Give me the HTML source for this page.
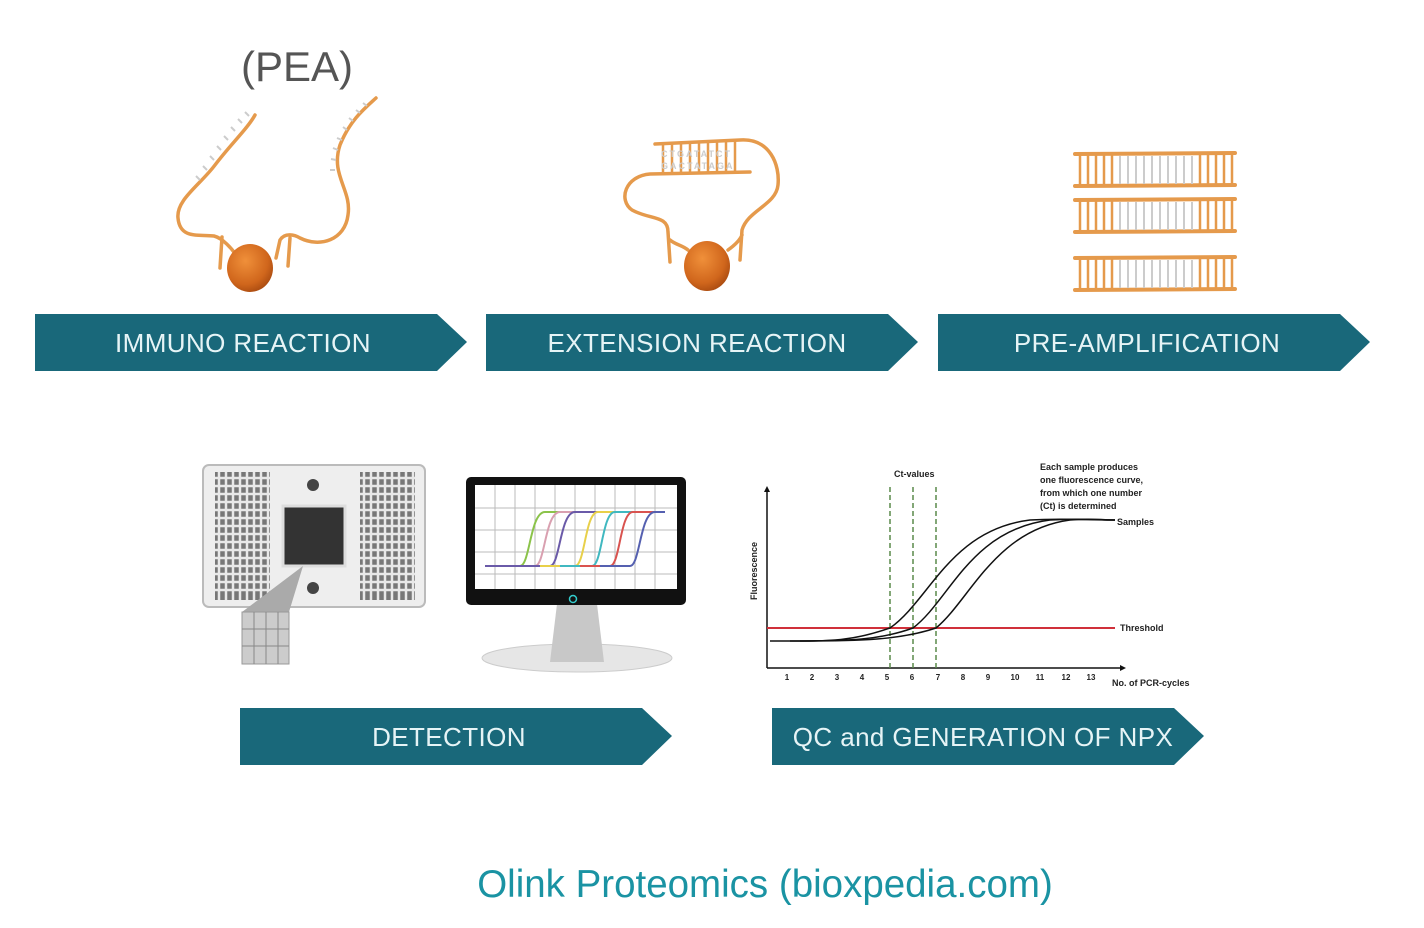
<!DOCTYPE html>
<html><head><meta charset="utf-8"><style>
html,body{margin:0;padding:0;background:#fff;}
svg{display:block;font-family:"Liberation Sans",sans-serif;}
</style></head><body>
<svg width="1424" height="928" viewBox="0 0 1424 928" xmlns="http://www.w3.org/2000/svg">
<defs>
<radialGradient id="bl" cx="0.4" cy="0.35" r="0.7"><stop offset="0" stop-color="#f0903a"/><stop offset="0.7" stop-color="#d0661c"/><stop offset="1" stop-color="#a84a10"/></radialGradient>
</defs>
<text x="297" y="81" font-size="42" fill="#555" text-anchor="middle">(PEA)</text>

<g fill="none" stroke="#e59a4c" stroke-width="3.5" stroke-linecap="round">
<path d="M238,258 C232,248 222,238 214,236 C200,234 180,240 178,218 C176,200 200,185 215,165 C230,145 248,128 255,115"/>
<path d="M222,237 L220,268 M276,258 L280,240 C285,232 295,235 300,238 C320,248 345,240 348,215 C352,190 330,175 340,145 C350,120 365,108 376,98"/>
<path d="M290,238 L288,266"/>
</g>
<g stroke="#ccc" stroke-width="2">
<path d="M200,180 l-4,-4 M207,170 l-4,-4 M214,160 l-4,-4 M221,150 l-4,-4 M228,140 l-4,-4 M235,131 l-4,-4 M242,123 l-4,-4 M249,116 l-4,-4"/>
<path d="M335,170 l-5,0 M336,160 l-5,-1 M338,150 l-5,-2 M342,140 l-5,-2 M347,130 l-4,-3 M353,121 l-4,-3 M360,113 l-4,-3 M367,106 l-4,-3"/>
</g>
<ellipse cx="250" cy="268" rx="23" ry="24" fill="url(#bl)"/>

<g fill="none" stroke="#e59a4c" stroke-width="3.5" stroke-linecap="round">
<path d="M750,172 L650,174 C625,176 618,200 632,210 C650,220 668,215 668,232 L670,262"/>
<path d="M655,144 L740,140 C770,138 780,165 778,185 C776,205 748,210 742,230 L740,260 M728,250 C735,245 740,240 742,235"/>
<path d="M688,250 C682,245 676,245 670,240"/>
</g>
<g stroke="#e59a4c" stroke-width="2.5"><path d="M663,144 v28 M672,144 v28 M681,143 v29 M690,143 v29 M699,142 v30 M708,142 v30 M717,141 v31 M726,141 v31 M735,141 v31"/></g>
<g fill="#ccc" font-size="9" font-weight="bold"><text x="661" y="157" letter-spacing="2">CTGATATCT</text><text x="661" y="169" letter-spacing="2">GACTATAGA</text></g>
<ellipse cx="707" cy="266" rx="23" ry="25" fill="url(#bl)"/>

<g id="lad">
<g stroke="#e59a4c" stroke-width="4" stroke-linecap="round"><path d="M1075,154 L1235,153 M1075,186 L1235,185"/></g>
<g stroke="#e59a4c" stroke-width="2.5"><path d="M1080,154v32M1088,154v32M1096,154v32M1104,154v32M1112,154v32M1200,154v32M1208,154v32M1216,154v32M1224,154v32M1232,154v32"/></g>
<g stroke="#ccc" stroke-width="2"><path d="M1120,156v28M1128,156v28M1136,156v28M1144,156v28M1152,156v28M1160,156v28M1168,156v28M1176,156v28M1184,156v28M1192,156v28"/></g>
</g>
<use href="#lad" y="46"/>
<use href="#lad" y="104"/>

<g fill="#19687a">
<polygon points="35,314 437,314 467,342 437,371 35,371"/>
<polygon points="486,314 888,314 918,342 888,371 486,371"/>
<polygon points="938,314 1340,314 1370,342 1340,371 938,371"/>
<polygon points="240,708 642,708 672,736 642,765 240,765"/>
<polygon points="772,708 1174,708 1204,736 1174,765 772,765"/>
</g>
<g fill="#e6f4f6" font-size="26" text-anchor="middle" letter-spacing="0.4">
<text x="243" y="352">IMMUNO REACTION</text>
<text x="697" y="352">EXTENSION REACTION</text>
<text x="1147" y="352">PRE-AMPLIFICATION</text>
<text x="449" y="746">DETECTION</text>
<text x="983" y="746">QC and GENERATION OF NPX</text>
</g>

<rect x="203" y="465" width="222" height="142" rx="6" fill="#eee" stroke="#bbb" stroke-width="2"/>
<rect x="215" y="472" width="55" height="128" fill="#777"/>
<rect x="360" y="472" width="55" height="128" fill="#777"/>
<g stroke="#e8e8e8" stroke-width="2.5">
<path d="M219,472v128M226,472v128M233,472v128M240,472v128M247,472v128M254,472v128M261,472v128M268,472v128M364,472v128M371,472v128M378,472v128M385,472v128M392,472v128M399,472v128M406,472v128M413,472v128"/>
<path d="M215,478h55M215,486h55M215,494h55M215,502h55M215,510h55M215,518h55M215,526h55M215,534h55M215,542h55M215,550h55M215,558h55M215,566h55M215,574h55M215,582h55M215,590h55M360,478h55M360,486h55M360,494h55M360,502h55M360,510h55M360,518h55M360,526h55M360,534h55M360,542h55M360,550h55M360,558h55M360,566h55M360,574h55M360,582h55M360,590h55"/>
</g>
<rect x="283" y="506" width="62" height="60" fill="#333" stroke="#ddd" stroke-width="3"/>
<circle cx="313" cy="485" r="6" fill="#444"/><circle cx="313" cy="588" r="6" fill="#444"/>
<polygon points="303,566 242,612 289,612" fill="#aaa"/>
<rect x="242" y="612" width="47" height="52" fill="#ccc" stroke="#999"/>
<g stroke="#888" fill="none"><path d="M254,612v52M266,612v52M278,612v52M242,629h47M242,646h47"/></g>

<ellipse cx="577" cy="658" rx="95" ry="14" fill="#e6e6e6" stroke="#ccc"/>
<polygon points="557,604 597,604 604,662 550,662" fill="#c8c8c8"/>
<rect x="466" y="477" width="220" height="128" rx="5" fill="#111"/>
<rect x="475" y="485" width="202" height="104" fill="#fff"/>
<g stroke="#bbb" stroke-width="1"><path d="M495,485v104M515,485v104M535,485v104M555,485v104M575,485v104M595,485v104M615,485v104M635,485v104M655,485v104M475,508h202M475,530h202M475,552h202M475,574h202"/></g>
<g fill="none" stroke-width="2">
<path d="M485,566 H520 C530,566 530,512 545,512 H660" stroke="#8bc34a"/>
<path d="M485,566 H535 C545,566 545,512 560,512 H660" stroke="#d9a0b0"/>
<path d="M485,566 H550 C560,566 560,512 575,512 H665" stroke="#6a5aa8"/>
<path d="M540,566 H575 C585,566 585,512 598,512 H660" stroke="#e8d04a"/>
<path d="M560,566 H592 C602,566 602,512 615,512 H660" stroke="#40b8c0"/>
<path d="M580,566 H610 C620,566 620,512 633,512 H660" stroke="#d9534f"/>
<path d="M600,566 H630 C640,566 640,512 655,512 H665" stroke="#5560b0"/>
</g>
<circle cx="573" cy="599" r="3.5" fill="none" stroke="#3cc" stroke-width="1.5"/>

<g stroke="#111" stroke-width="1.5" fill="none">
<path d="M767,668 V490 M767,668 H1122"/>
</g>
<polygon points="764,492 767,486 770,492" fill="#111"/>
<polygon points="1120,665 1126,668 1120,671" fill="#111"/>
<line x1="767" y1="628" x2="1115" y2="628" stroke="#d0303a" stroke-width="2"/>
<g stroke="#5a8a4a" stroke-width="1.5" stroke-dasharray="5,3"><path d="M890,487V668M913,487V668M936,487V668"/></g>
<g stroke="#111" stroke-width="1.5" fill="none">
<path d="M770,641 C830,641 850,642 890,628 C930,600 950,530 1030,520 C1060,518 1090,520 1115,520"/>
<path d="M790,641 C850,641 880,640 913,628 C950,600 970,530 1050,520 C1080,518 1095,520 1115,520"/>
<path d="M800,641 C860,641 900,640 936,628 C970,600 995,530 1070,520 C1090,518 1100,520 1115,520"/>
</g>
<g font-size="9" font-weight="bold" fill="#222">
<text x="894" y="477">Ct-values</text>
<text x="1040" y="470">Each sample produces</text>
<text x="1040" y="483">one fluorescence curve,</text>
<text x="1040" y="496">from which one number</text>
<text x="1040" y="509">(Ct) is determined</text>
<text x="1117" y="525">Samples</text>
<text x="1120" y="631">Threshold</text>
<text x="1112" y="686">No. of PCR-cycles</text>
<text transform="translate(757,600) rotate(-90)">Fluorescence</text>
</g>
<g font-size="8" font-weight="bold" fill="#222" text-anchor="middle">
<text x="787" y="680">1</text><text x="812" y="680">2</text><text x="837" y="680">3</text><text x="862" y="680">4</text><text x="887" y="680">5</text><text x="912" y="680">6</text><text x="938" y="680">7</text><text x="963" y="680">8</text><text x="988" y="680">9</text><text x="1015" y="680">10</text><text x="1040" y="680">11</text><text x="1066" y="680">12</text><text x="1091" y="680">13</text>
</g>

<text x="765" y="897" font-size="38.5" fill="#1a93a3" text-anchor="middle">Olink Proteomics (bioxpedia.com)</text>
</svg>
</body></html>
